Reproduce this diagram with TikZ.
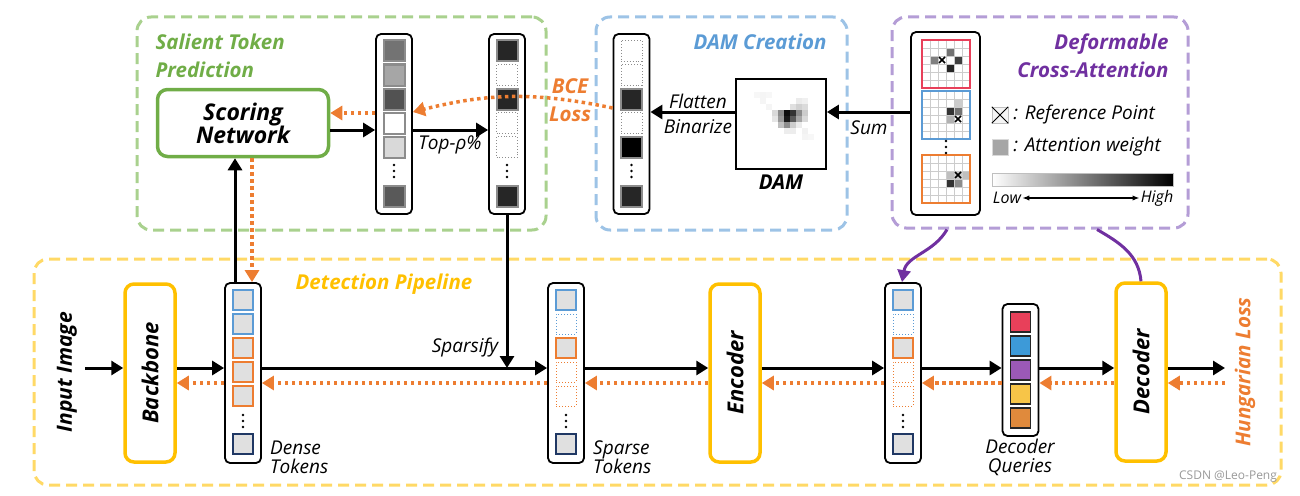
\documentclass[tikz,border=0pt]{standalone}
\usepackage{fontspec}
\setmainfont{Open Sans}
\usetikzlibrary{arrows.meta,positioning,calc}

\definecolor{cgreen}{HTML}{70AD47}
\definecolor{cgreenl}{HTML}{A9D18E}
\definecolor{cblue}{HTML}{5B9BD5}
\definecolor{cbluel}{HTML}{9DC3E6}
\definecolor{cpur}{HTML}{7030A0}
\definecolor{cpurl}{HTML}{B49DD6}
\definecolor{cgold}{HTML}{FFC000}
\definecolor{cyell}{HTML}{FFD966}
\definecolor{corange}{HTML}{ED7D31}
\definecolor{cnavy}{HTML}{203864}
\definecolor{qred}{HTML}{E8405A}
\definecolor{qblue}{HTML}{3D9AD8}
\definecolor{qpurple}{HTML}{9B59B6}
\definecolor{qyellow}{HTML}{F7C548}
\definecolor{qorange}{HTML}{E08A3C}

% three dots inside a token column
\newcommand{\tokdots}[2]{%
  \foreach \d in {-6,0,6} \fill (#1,#2+\d) circle (1.3pt);}

% 6x6 attention map: origin x, origin y, frame colour, weighted cells
\newcommand{\attngrid}[4]{%
  \foreach \gx/\gy/\gf in {#4} \path[fill=black!\gf] (#1+\gx*8,#2+\gy*8) rectangle ++(8,8);
  \foreach \k in {1,...,5} {
    \draw[black!20, line width=0.8pt] (#1+\k*8,#2) -- ++(0,48);
    \draw[black!20, line width=0.8pt] (#1,#2+\k*8) -- ++(48,0);}
  \draw[#3, line width=1.6pt] (#1,#2) rectangle ++(48,48);}

\newcommand{\refmark}[2]{%
  \draw[line width=1.6pt] (#1-3,#2-3) -- (#1+3,#2+3) (#1-3,#2+3) -- (#1+3,#2-3);}

\begin{document}
\begin{tikzpicture}[x=1pt, y=-1pt,
  group/.style={draw=#1, line width=3pt, dash pattern=on 11pt off 6pt, rounded corners=14pt},
  box/.style={draw=cgold, line width=3.5pt, rounded corners=9pt, minimum width=50pt, minimum height=178pt},
  tokcol/.style={draw, line width=1.8pt, rounded corners=5pt, minimum width=36pt, minimum height=180pt},
  cell/.style={draw=black!45, line width=2pt, minimum size=21pt, inner sep=0pt},
  dotcell/.style={draw=black!45, line width=0.9pt, dotted, minimum size=21pt, inner sep=0pt},
  tcell/.style={line width=2pt, fill=black!12, minimum size=20pt, inner sep=0pt},
  tdot/.style={line width=1pt, dotted, minimum size=20pt, inner sep=0pt},
  arrow/.style={line width=3pt, -{Triangle[length=12pt, width=14pt]}},
  back/.style={corange, line width=3.5pt, dash pattern=on 3.5pt off 3.5pt, -{Triangle[length=12pt, width=14pt]}},
  attn/.style={cpur, line width=3pt},
  title/.style={font=\bfseries\itshape\fontsize{20.5}{28}\selectfont},
  stage/.style={font=\bfseries\itshape\fontsize{22}{24}\selectfont},
  lbl/.style={font=\itshape\fontsize{19}{19}\selectfont, inner sep=1pt}]

\useasboundingbox (0,0) rectangle (1300,495);

% groups
\node[group=cgreenl, minimum width=409pt, minimum height=213pt] (stp) at (341.5,123.5) {};
\node[group=cbluel, minimum width=251pt, minimum height=213pt] (dac) at (721.5,123.5) {};
\node[group=cpurl, minimum width=296pt, minimum height=211pt] (dca) at (1040,122.5) {};
\node[group=cyell, minimum width=1247pt, minimum height=226pt] (pipe) at (657.5,372) {};

\node[title, cgreen, align=left, anchor=west] at (152,56) {Salient Token\\Prediction};
\node[title, cblue] at (760,42) {DAM Creation};
\node[title, cpur, align=right, anchor=east] at (1172,56) {Deformable\\Cross-Attention};
\node[title, cgold] at (384,284) {Detection Pipeline};
\node[title, corange] (hung) at (1245,372) {\rotatebox{90}{Hungarian Loss}};

% salient token prediction
\node[draw=cgreen, line width=3.5pt, rounded corners=10pt, minimum width=171pt, minimum height=67pt,
  align=center, font=\bfseries\itshape\fontsize{23}{23}\selectfont] (score) at (243,123) {Scoring\\Network};
\node[tokcol] (prob) at (394,124) {};
\node[tokcol] (topk) at (507,124) {};
\node[tokcol] (bin) at (631.5,124) {};
\foreach \cy/\cf in {51/black!55, 75/black!35, 99/black!68, 123/white, 147/black!15, 196/black!65}
  \node[cell, fill=\cf] at (394,\cy) {};
\foreach \cy in {51,99,196} \node[cell, fill=black!85] at (507,\cy) {};
\foreach \cy in {75,123,147} \node[dotcell] at (507,\cy) {};
\foreach \cy/\cf in {99/black!85, 147/black, 196/black!85} \node[cell, fill=\cf] at (631.5,\cy) {};
\foreach \cy in {51,75,123} \node[dotcell] at (631.5,\cy) {};
\foreach \cx in {394,507,631.5} \tokdots{\cx}{171};

% DAM
\foreach \hx/\hy/\hf in {3/2/3, 4/2/4, 5/2/3, 4/3/4, 10/3/8, 11/3/6,
    5/4/4, 9/4/12, 10/4/18, 11/4/14,
    6/5/15, 7/5/45, 8/5/95, 9/5/80, 10/5/45, 11/5/20,
    6/6/10, 7/6/40, 8/6/90, 9/6/65, 10/6/35, 11/6/15,
    7/7/25, 8/7/45, 9/7/20, 10/7/8, 8/8/7, 9/8/7, 11/8/5, 11/9/4, 12/9/3}
  \path[fill=black!\hf] (736+\hx*6,80+\hy*6) rectangle ++(6,6);
\node[draw, line width=1.8pt, minimum size=90pt] (dam) at (781,124) {};
\node[title, below=1pt of dam] {DAM};

% deformable cross-attention
\node[tokcol, minimum width=69pt, minimum height=183pt] (attn) at (945.5,123.5) {};
\attngrid{922}{40}{qred}{3/1/55, 1/2/50, 4/2/75, 3/3/85}
\attngrid{922}{91}{cblue}{4/1/20, 3/2/80, 4/2/55, 3/3/30}
\attngrid{922}{155}{corange}{3/2/25, 4/2/20, 5/2/25, 3/3/80, 4/3/45}
\refmark{942}{60} \refmark{958}{119} \refmark{958}{175}
\tokdots{946}{147}

\node[draw=black!25, fill=black!4, minimum size=16pt, inner sep=0pt] (refkey) at (1000,115) {};
\draw[line width=1pt] (refkey.north west) -- (refkey.south east) (refkey.south west) -- (refkey.north east);
\node[lbl, right=4pt of refkey] {: Reference Point};
\node[fill=black!35, draw=black!15, minimum size=16pt, inner sep=0pt] (wkey) at (1000,147) {};
\node[lbl, right=4pt of wkey] {: Attention weight};
\node[draw=black!25, line width=0.8pt, minimum width=181pt, minimum height=13pt,
  left color=white, right color=black] (bar) at (1082.5,179.5) {};
\node[lbl, font=\itshape\fontsize{16}{16}\selectfont] (low) at (1007,198) {Low};
\node[lbl, font=\itshape\fontsize{16}{16}\selectfont] (high) at (1157,198) {High};
\draw[{Latex[length=7pt]}-{Latex[length=7pt]}, line width=1.3pt] (low) -- (high);

% top connectors
\coordinate (py) at (0,130);
\coordinate (qy) at (0,113);
\coordinate (sy) at (0,112);
\draw[arrow] (score.east |- py) -- (prob.west |- py);
\draw[arrow] (prob.east |- py) -- (topk.west |- py);
\node[lbl] at (450,145) {Top-ρ\%};
\draw[back] (prob.west |- qy) -- (score.east |- qy);
\draw[back] ([yshift=16pt]bin.west) to[bend right=13] ([yshift=12pt]prob.east);
\node[title, corange, align=center] at (570,100) {BCE\\Loss};
\draw[arrow] (dam.west |- sy) -- (bin.east |- sy);
\node[lbl] at (698,101) {Flatten};
\node[lbl] at (698,127) {Binarize};
\draw[arrow] (attn.west |- sy) -- (dam.east |- sy);
\node[lbl] at (869,128) {Sum};

% detection pipeline
\node[title, font=\bfseries\itshape\fontsize{21}{23}\selectfont] (input) at (67,372) {\rotatebox{90}{Input Image}};
\node[box, stage] (backbone) at (150,373) {\rotatebox{90}{Backbone}};
\node[tokcol] (dense) at (243,373) {};
\node[tokcol] (sparse) at (566,373) {};
\node[box, stage] (encoder) at (735,373) {\rotatebox{90}{Encoder}};
\node[tokcol] (encout) at (903,373) {};
\node[tokcol, minimum height=132pt] (query) at (1020.5,370) {};
\node[box, stage] (decoder) at (1141,372) {\rotatebox{90}{Decoder}};

\foreach \cy/\cc in {300/cblue, 324/cblue, 348/corange, 372/corange, 396/corange, 444/cnavy}
  \node[tcell, draw=\cc] at (243,\cy) {};
\foreach \cx in {566,903} {
  \foreach \cy/\cc in {300/cblue, 348/corange, 444/cnavy} \node[tcell, draw=\cc] at (\cx,\cy) {};
  \foreach \cy/\cc in {324/cblue, 372/corange, 396/corange} \node[tdot, draw=\cc] at (\cx,\cy) {};}
\foreach \cx in {243,566,903} \tokdots{\cx}{421};
\foreach \cy/\cf in {322/qred, 346/qblue, 370/qpurple, 394/qyellow, 418/qorange}
  \node[tcell, draw=black!85, line width=1.5pt, fill=\cf] at (1020.5,\cy) {};

\node[lbl, align=left, anchor=west] at (269,457) {Dense\\Tokens};
\node[lbl, align=left, anchor=west] at (592,457) {Sparse\\Tokens};
\node[lbl, align=center] at (1020,457) {Decoder\\Queries};
\node[lbl] at (465,348) {Sparsify};

\coordinate (fwd) at (0,368);
\coordinate (bwd) at (0,383);
\coordinate (inpt) at (85,368);
\coordinate (output) at (1225,368);
\draw[arrow] (inpt) -- (backbone.west |- fwd);
\foreach \a/\b in {backbone/dense, dense/sparse, sparse/encoder, encoder/encout, encout/query, query/decoder}
  \draw[arrow] (\a.east |- fwd) -- (\b.west |- fwd);
\draw[arrow] (decoder.east |- fwd) -- (output);
\draw[back] (output |- bwd) -- (decoder.east |- bwd);
\foreach \a/\b in {backbone/dense, dense/sparse, sparse/encoder, encoder/encout, encout/query, query/decoder}
  \draw[back] (\b.west |- bwd) -- (\a.east |- bwd);

\draw[arrow] ([xshift=-8pt]dense.north) -- ([xshift=-8pt]score.south);
\draw[back] ([xshift=9pt]score.south) -- ([xshift=9pt]dense.north);
\draw[arrow] (topk.south) -- (topk.south |- fwd);
\draw[attn, -{Triangle[length=12pt, width=13pt]}] ([xshift=-93pt]dca.south) to[out=-120, in=80] ([xshift=-1pt]encout.north);
\draw[attn] ([xshift=57pt]dca.south) to[out=-30, in=95] (decoder.north);

\node[text=black!40, font=\fontsize{12}{14}\selectfont] at (1228,477) {CSDN @Leo-Peng};
\end{tikzpicture}
\end{document}
